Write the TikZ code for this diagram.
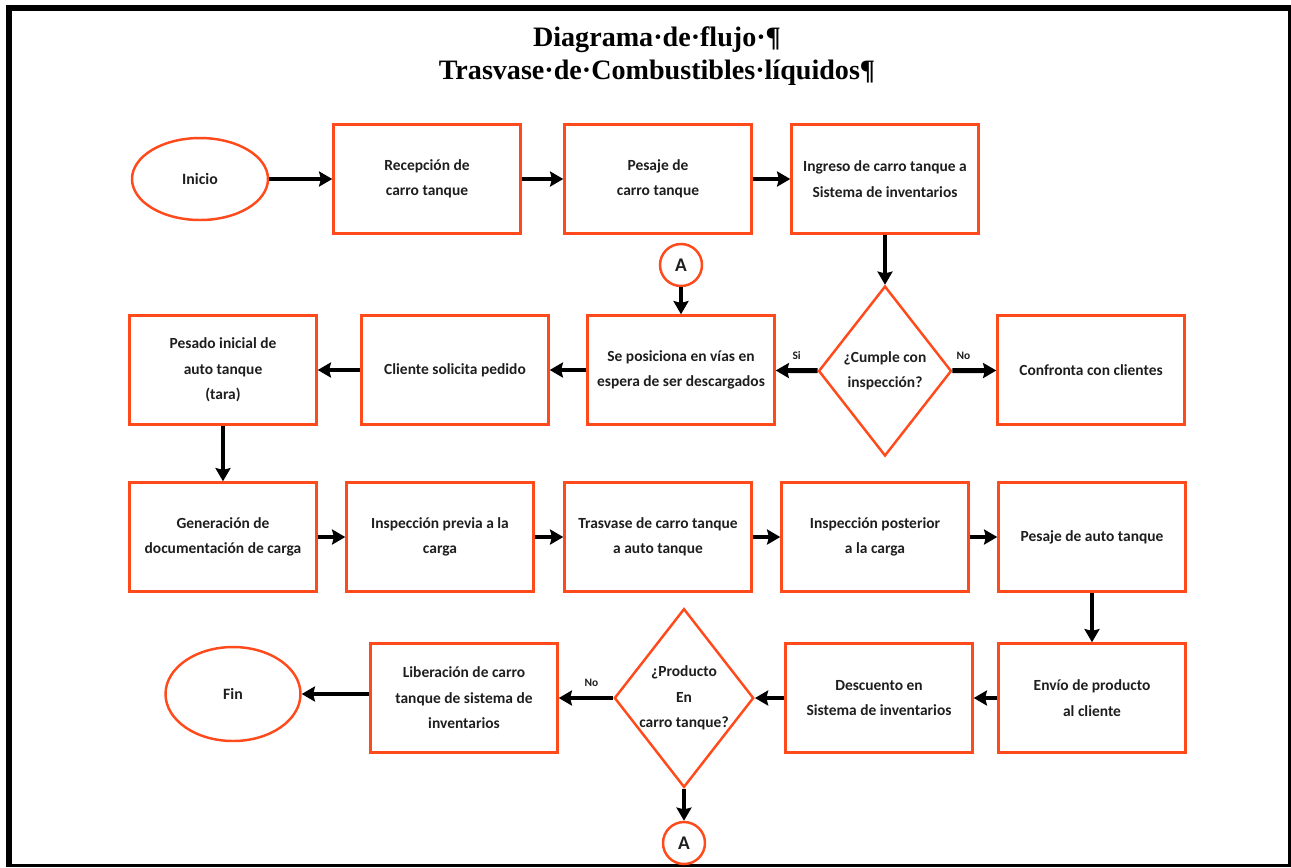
\documentclass[tikz,border=0pt]{standalone}
\usepackage{fontspec}
\setmainfont{Carlito}
\newfontfamily\ttlfont{Liberation Serif}
\usetikzlibrary{arrows.meta,shapes.geometric}
\definecolor{Oc}{HTML}{FF4A1C}
\definecolor{Tc}{HTML}{1E1E1E}
\tikzset{
  proc/.style={rectangle, draw=Oc, line width=1.4pt, minimum width=3.74cm, minimum height=2.18cm,
    align=center, text=Tc, font=\bfseries\fontsize{8.8}{14.5}\selectfont},
  term/.style={ellipse, draw=Oc, line width=1.4pt, minimum width=2.72cm, minimum height=1.64cm,
    text=Tc, font=\bfseries\fontsize{9}{11}\selectfont},
  dec/.style={diamond, draw=Oc, line width=1.4pt, aspect=0.78, inner sep=0pt, minimum width=2.66cm,
    minimum height=3.4cm, align=center, text=Tc, font=\bfseries\fontsize{8.8}{14.5}\selectfont},
  conn/.style={circle, draw=Oc, line width=1.4pt, minimum size=0.84cm, inner sep=0pt,
    text=Tc, font=\bfseries\fontsize{11}{13}\selectfont},
  link/.style={-{Stealth[length=7.5pt,width=8.5pt,inset=1pt]}, line width=2.8pt},
  lbl/.style={text=Tc, font=\bfseries\fontsize{6.5}{8}\selectfont, inner sep=1pt},
}

\begin{document}
\begin{tikzpicture}[x=0.02cm, y=-0.02cm]
  \useasboundingbox (0,0) rectangle (1291,867);
  % frame
  \draw[line width=3.4pt] (9,5) -- (9,867);
  \draw[line width=3.4pt] (6,8) -- (1291,8);
  \draw[line width=1.7pt] (1289.5,5) -- (1289.5,867);
  \draw[line width=1.7pt] (6,865.5) -- (1291,865.5);
  \node[font=\ttlfont\bfseries\fontsize{16}{18.7}\selectfont, align=center] (title) at (657,56)
    {Diagrama·de·flujo·¶\\Trasvase·de·Combustibles·líquidos¶};

  % row 1
  \node[term] (inicio) at (200,179) {Inicio};
  \node[proc] (recep) at (427,179) {Recepción de\\carro tanque};
  \node[proc] (pesct) at (658,179) {Pesaje de\\carro tanque};
  \node[proc] (ingreso) at (885,179) {Ingreso de carro tanque a\\Sistema de inventarios};
  % row 2
  \node[conn] (Atop) at (681,265) {A};
  \node[proc] (posic) at (681,370) {Se posiciona en vías en\\espera de ser descargados};
  \node[dec] (cumple) at (885,371) {¿Cumple con\\inspección?};
  \node[proc] (confr) at (1091,370) {Confronta con clientes};
  \node[proc] (pedido) at (455,370) {Cliente solicita pedido};
  \node[proc] (tara) at (223,370) {Pesado inicial de\\auto tanque\\(tara)};
  % row 3
  \node[proc] (docum) at (223,537) {Generación de\\documentación de carga};
  \node[proc] (insp1) at (440,537) {Inspección previa a la\\carga};
  \node[proc] (trasv) at (658,537) {Trasvase de carro tanque\\a auto tanque};
  \node[proc] (insp2) at (875,537) {Inspección posterior\\a la carga};
  \node[proc] (pesat) at (1092,537) {Pesaje de auto tanque};
  % row 4
  \node[proc] (envio) at (1092,698) {Envío de producto\\al cliente};
  \node[proc] (desc) at (879,698) {Descuento en\\Sistema de inventarios};
  \node[dec] (prod) at (684,698) {¿Producto\\En\\carro tanque?};
  \node[proc] (liber) at (464,698) {Liberación de carro\\tanque de sistema de\\inventarios};
  \node[term, minimum width=2.7cm, minimum height=1.88cm] (fin) at (233,694) {Fin};
  \node[conn] (Abot) at (684,843) {A};

  \draw[link] (inicio) -- (recep);
  \draw[link] (recep) -- (pesct);
  \draw[link] (pesct) -- (ingreso);
  \draw[link] (ingreso) -- (cumple);
  \draw[link] (Atop) -- (posic);
  \draw[link] (cumple) -- node[lbl, above=4pt] {Si} (posic);
  \draw[link] (cumple) -- node[lbl, above=4pt, pos=0.25] {No} (confr);
  \draw[link] (posic) -- (pedido);
  \draw[link] (pedido) -- (tara);
  \draw[link] (tara) -- (docum);
  \draw[link] (docum) -- (insp1);
  \draw[link] (insp1) -- (trasv);
  \draw[link] (trasv) -- (insp2);
  \draw[link] (insp2) -- (pesat);
  \draw[link] (pesat) -- (envio);
  \draw[link] (envio) -- (desc);
  \draw[link] (desc) -- (prod);
  \draw[link] (prod) -- node[lbl, above=4pt, pos=0.4] {No} (liber);
  \draw[link] (liber.west |- fin) -- (fin.east);
  \draw[link] (prod) -- (Abot);
\end{tikzpicture}
\end{document}
